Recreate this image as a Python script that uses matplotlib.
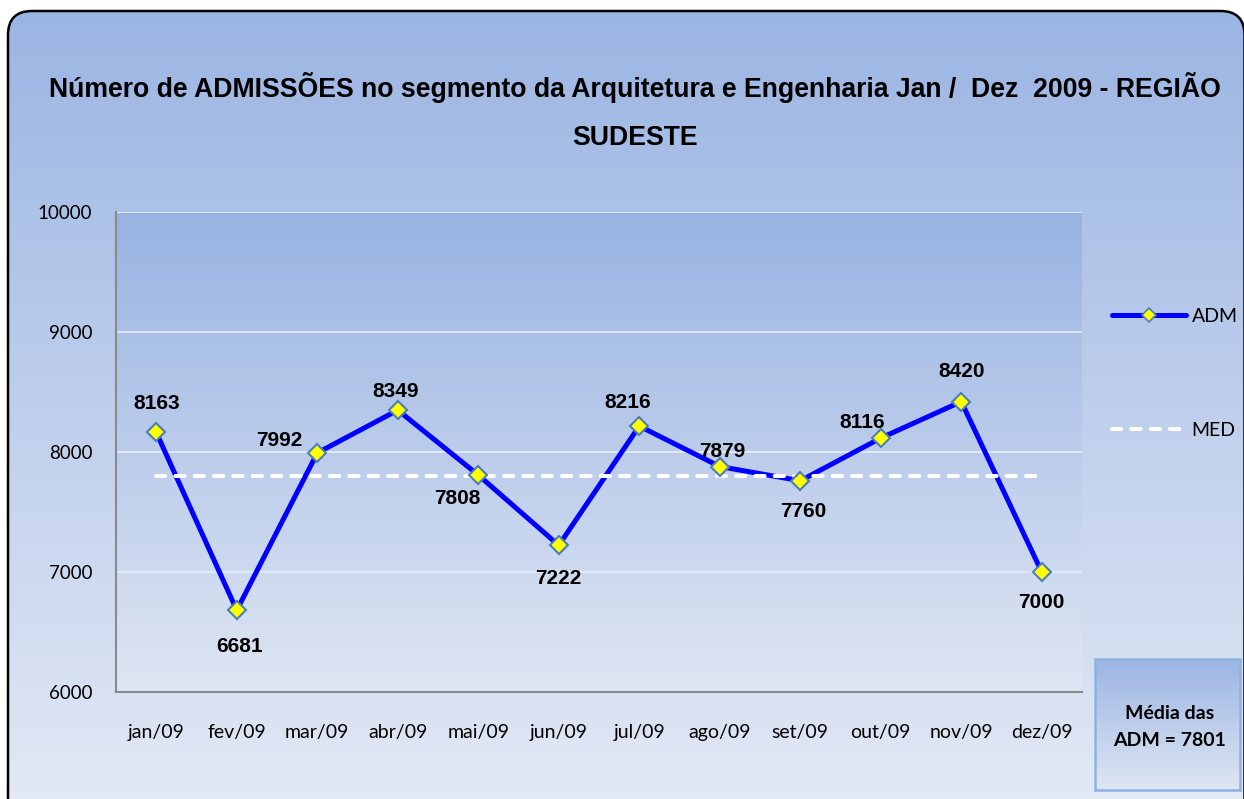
import numpy as np
import matplotlib
matplotlib.use("Agg")
import matplotlib.pyplot as plt
from matplotlib.colors import LinearSegmentedColormap
from matplotlib.patches import FancyBboxPatch, Rectangle
from matplotlib.lines import Line2D

# ---------------- data ----------------
months = ['jan/09', 'fev/09', 'mar/09', 'abr/09', 'mai/09', 'jun/09',
          'jul/09', 'ago/09', 'set/09', 'out/09', 'nov/09', 'dez/09']
adm = [8163, 6681, 7992, 8349, 7808, 7222, 8216, 7879, 7760, 8116, 8420, 7000]
med = [7801, 7801, 7801, 7801, 7801, 7801, 7801, 7801, 7801, 7801, 7801, 7801]
yticks = [6000, 7000, 8000, 9000, 10000]
ytick_labels = ['6000', '7000', '8000', '9000', '10000']
title_line1 = 'Número de ADMISSÕES no segmento da Arquitetura e Engenharia Jan /  Dez  2009 - REGIÃO'
title_line2 = 'SUDESTE'
series_names = ['ADM', 'MED']
box_lines = ['Média das', 'ADM = 7801']

# label offsets (pixels, right / down from marker centre)
label_offsets = [(0, -31), (3, 34), (-38, -14), (-2, -21), (-21, 21), (0, 31),
                 (-12, -26), (3, -17), (3, 29), (-19, -18), (0, -32), (0, 28)]

W, H = 1244, 799
fig = plt.figure(figsize=(W / 100, H / 100), dpi=100)
fig.patch.set_facecolor('white')

# ---------------- background (pixel coordinates) ----------------
ax_bg = fig.add_axes([0, 0, 1, 1])
ax_bg.set_xlim(0, W)
ax_bg.set_ylim(H, 0)
ax_bg.axis('off')
ax_bg.set_zorder(0)

grad = np.linspace(0, 1, 256).reshape(-1, 1)
cm_fig = LinearSegmentedColormap.from_list('fig', ['#9bb5e3', '#e3e9f5'])
cm_plot = LinearSegmentedColormap.from_list('plt', ['#98b3e2', '#dfe6f3'])
cm_box = LinearSegmentedColormap.from_list('box', ['#9bb5e3', '#dfe6f3'])

frame = FancyBboxPatch((8, 11), 1236.5, 860, boxstyle='round,pad=0,rounding_size=24',
                       fc='none', ec='black', lw=1.8, zorder=3)
ax_bg.add_patch(frame)
im = ax_bg.imshow(grad, extent=(8, 1245, 810, 11), cmap=cm_fig, aspect='auto',
                  interpolation='bilinear', zorder=1)
im.set_clip_path(frame)
ax_bg.set_xlim(0, W)
ax_bg.set_ylim(H, 0)

# title
ax_bg.text(635, 97, title_line1, ha='center', va='baseline', fontsize=19.2,
           fontweight='bold', family='Liberation Sans', color='black', zorder=4)
ax_bg.text(635, 145, title_line2, ha='center', va='baseline', fontsize=19.2,
           fontweight='bold', family='Liberation Sans', color='black', zorder=4)

# bottom-right box
box = Rectangle((1095, 659), 145, 131, fc='none', ec='#8db3e2', lw=1.8, zorder=3)
ax_bg.add_patch(box)
imb = ax_bg.imshow(grad, extent=(1095, 1240, 790, 659), cmap=cm_box, aspect='auto',
                   interpolation='bilinear', zorder=2)
imb.set_clip_path(box)
ax_bg.set_xlim(0, W)
ax_bg.set_ylim(H, 0)
ax_bg.text(1170, 719, box_lines[0], ha='center', va='baseline', fontsize=14,
           fontweight='bold', family='Lato', color='black', zorder=4)
ax_bg.text(1170, 746, box_lines[1], ha='center', va='baseline', fontsize=14,
           fontweight='bold', family='Lato', color='black', zorder=4)

# ---------------- main plot ----------------
ax = fig.add_axes([116 / W, 1 - 692 / H, 966 / W, 480 / H])
ax.set_zorder(1)
ax.patch.set_facecolor('none')
ax.imshow(grad, extent=(0, 1, 0, 1), transform=ax.transAxes, cmap=cm_plot,
          aspect='auto', interpolation='bilinear', zorder=0)

x = np.arange(len(months))
ax.plot(x, adm, color='#0000ff', lw=3.6, zorder=2, solid_joinstyle='round',
        solid_capstyle='round')
ax.plot(x, med, color='white', lw=2.9, dashes=(2.3, 2.5), dash_capstyle='round', zorder=3)
ax.plot(x, adm, ls='none', marker='D', ms=9, mfc='#ffff00', mec='#4a7ebb',
        mew=1.5, zorder=4)

for i, v in enumerate(adm):
    dx, dy = label_offsets[i]
    ax.annotate(str(v), (x[i], v), xytext=(dx, -(dy + 7.5)), textcoords='offset pixels',
                ha='center', va='baseline', fontsize=15, fontweight='bold',
                family='Liberation Sans', color='black', zorder=5)

ax.set_xlim(-0.5, len(months) - 0.5)
ax.set_ylim(6000, 10000)
ax.set_xticks(x)
ax.set_xticklabels(months, family='Lato', fontsize=14)
ax.set_yticks(yticks)
ax.set_yticklabels(ytick_labels, family='Lato', fontsize=13.5)
ax.tick_params(axis='x', length=0, pad=23)
ax.tick_params(axis='y', length=0, pad=17)
ax.yaxis.grid(True, color='#e4ebf7', lw=1.3, zorder=1)
ax.set_axisbelow(True)
for s in ['top', 'right']:
    ax.spines[s].set_visible(False)
for s in ['left', 'bottom']:
    ax.spines[s].set_color('#8a8a8a')
    ax.spines[s].set_linewidth(1.5)

# legend
h_adm = Line2D([], [], color='#0000ff', lw=3.6, marker='D', ms=7, mfc='#ffff00',
               mec='#4a7ebb', mew=1.2, solid_capstyle='round')
h_med = Line2D([], [], color='white', lw=2.9, dashes=(2.3, 2.5), dash_capstyle='round')
leg = ax.legend([h_adm, h_med], series_names, loc='center left',
                bbox_to_anchor=(1112 / W, 1 - 373.5 / H), bbox_transform=fig.transFigure,
                frameon=False, borderpad=0, borderaxespad=0, handlelength=3.8,
                handletextpad=0.3, labelspacing=5.0, numpoints=1,
                prop={'family': 'Lato', 'size': 14})

fig.savefig('out.png', dpi=100, facecolor='white')
